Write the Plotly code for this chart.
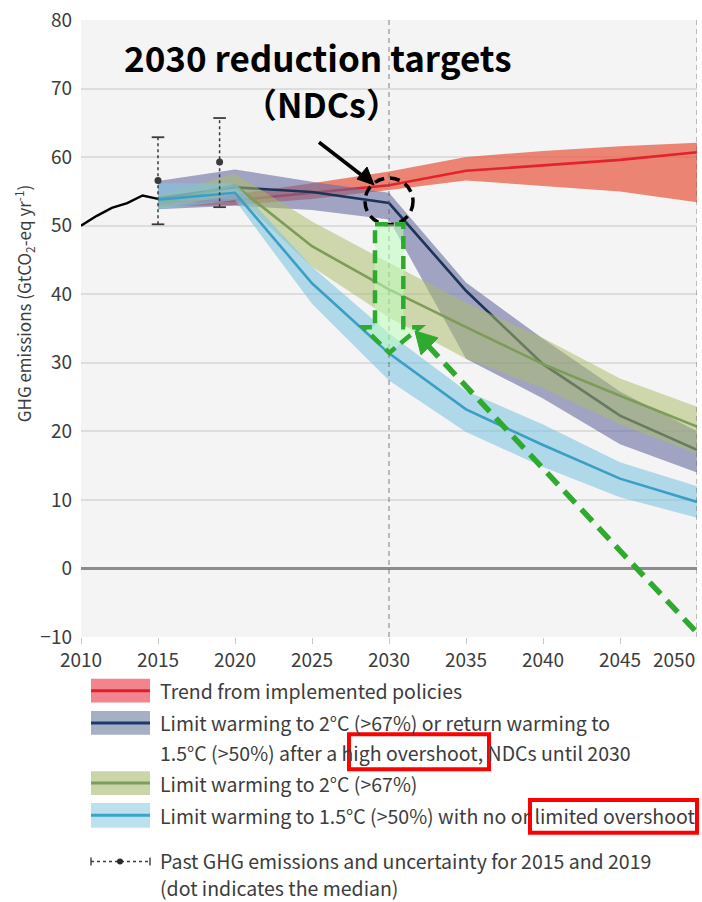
import plotly.graph_objects as go

# ---- data -------------------------------------------------------------
years = [2015, 2020, 2025, 2030, 2035, 2040, 2045, 2050]

# Trend from implemented policies
red_med = [53.4, 53.7, 54.8, 55.9, 58.0, 58.8, 59.6, 60.7]
red_lo = [52.8, 53.0, 53.9, 55.2, 56.6, 55.8, 55.0, 53.4]
red_hi = [54.0, 54.6, 56.2, 57.9, 60.0, 60.9, 61.6, 62.1]

# Limit warming to 2°C (>67%) or return to 1.5°C after high overshoot, NDCs until 2030
navy_med = [54.0, 55.6, 54.9, 53.3, 40.5, 29.8, 22.3, 17.3]
navy_lo = [52.4, 52.9, 52.3, 50.9, 30.6, 24.8, 18.1, 14.0]
navy_hi = [56.5, 58.2, 56.4, 54.8, 41.7, 33.5, 25.8, 20.0]

# Limit warming to 2°C (>67%)
olive_med = [53.2, 55.9, 47.0, 40.7, 35.2, 29.8, 25.2, 20.7]
olive_lo = [52.4, 54.6, 44.0, 36.6, 30.6, 26.3, 21.0, 16.7]
olive_hi = [54.4, 57.6, 50.6, 44.6, 38.8, 33.6, 27.7, 23.6]

# Limit warming to 1.5°C (>50%) with no or limited overshoot
blue_med = [53.8, 54.8, 41.6, 31.4, 23.2, 18.0, 13.1, 9.7]
blue_lo = [52.4, 53.7, 38.6, 27.4, 19.9, 14.8, 10.4, 7.4]
blue_hi = [56.2, 56.2, 44.0, 34.3, 25.9, 21.0, 15.5, 12.0]

# Past emissions
hist_years = [2010, 2011, 2012, 2013, 2014, 2015]
hist_vals = [50.0, 51.4, 52.6, 53.3, 54.4, 53.9]

# Past emissions uncertainty (median and range)
err_years = [2015, 2019]
err_med = [56.6, 59.3]
err_lo = [50.2, 52.7]
err_hi = [62.9, 65.7]

x_ticks = [2010, 2015, 2020, 2025, 2030, 2035, 2040, 2045, 2050]
y_ticks = [-10, 0, 10, 20, 30, 40, 50, 60, 70, 80]

legend_labels = [
    "Trend from implemented policies",
    "Limit warming to 2°C (>67%) or return warming to",
    "1.5°C (>50%) after a high overshoot, NDCs until 2030",
    "Limit warming to 2°C (>67%)",
    "Limit warming to 1.5°C (>50%) with no or limited overshoot",
    "Past GHG emissions and uncertainty for 2015 and 2019",
    "(dot indicates the median)",
]

# ---- page geometry ---------------------------------------------------
W, H = 702, 902
ML, MR, MT, MB = 81, 5, 16, 265
PW, PH = W - ML - MR, H - MT - MB


def fx(px):
    return (px - ML) / PW


def fy(py):
    return (H - MB - py) / PH


FONT = "Noto Sans CJK JP"
TXT = "#3c3c3c"
GREEN = "#2eaa2e"

fig = go.Figure()

scenarios = [
    (red_med, red_lo, red_hi, "rgba(233,89,65,0.72)", "#e1232b"),
    (navy_med, navy_lo, navy_hi, "rgba(104,108,160,0.6)", "#1c3557"),
    (olive_med, olive_lo, olive_hi, "rgba(170,188,105,0.52)", "#7d9c58"),
    (blue_med, blue_lo, blue_hi, "rgba(129,196,224,0.6)", "#3b9fc4"),
]

for med, lo, hi, fill, line in scenarios:
    fig.add_trace(go.Scatter(
        x=years + years[::-1], y=hi + lo[::-1], fill="toself",
        fillcolor=fill, line=dict(width=0), mode="lines",
        hoverinfo="skip", showlegend=False))
    fig.add_trace(go.Scatter(
        x=years, y=med, mode="lines", line=dict(color=line, width=2.6),
        showlegend=False))

fig.add_trace(go.Scatter(
    x=hist_years, y=hist_vals, mode="lines",
    line=dict(color="black", width=2.4), showlegend=False))

# uncertainty whiskers: dotted stem, caps and median dot
WHISK = "#3a3a3a"
for yr, md, lo, hi in zip(err_years, err_med, err_lo, err_hi):
    fig.add_trace(go.Scatter(
        x=[yr, yr], y=[lo, hi], mode="lines",
        line=dict(color=WHISK, width=1.5, dash="dot"), showlegend=False))
    fig.add_trace(go.Scatter(
        x=[yr, yr], y=[lo, hi], mode="markers",
        marker=dict(symbol="line-ew-open", size=9, color=WHISK,
                    line=dict(color=WHISK, width=1.8)),
        showlegend=False))
    fig.add_trace(go.Scatter(
        x=[yr], y=[md], mode="markers",
        marker=dict(color=WHISK, size=7), showlegend=False))

shapes = []
# reference verticals at 2030 and 2050
for xv in (2030, 2050):
    shapes.append(dict(type="line", xref="x", yref="paper", x0=xv, x1=xv,
                       y0=0, y1=1, layer="above",
                       line=dict(color="rgba(90,90,90,0.75)", width=1,
                                 dash="5px,4px")))

# dashed circle around the 2030 pledge point
shapes.append(dict(type="circle", xref="x", yref="y",
                   x0=2028.44, x1=2031.56, y0=50.14, y1=56.96,
                   layer="above",
                   line=dict(color="black", width=3.5, dash="10px,6px")))

# black pointer from the headline to the circle
shapes.append(dict(type="line", xref="paper", yref="paper",
                   x0=fx(319), y0=fy(139), x1=fx(364), y1=fy(174),
                   layer="above", line=dict(color="black", width=3.6)))
shapes.append(dict(type="path", xref="paper", yref="paper",
                   path=(f"M {fx(374)},{fy(182)} L {fx(357)},{fy(176)} "
                         f"L {fx(367)},{fy(164)} Z"),
                   layer="above", fillcolor="black",
                   line=dict(color="black", width=1)))

# hollow block arrow pointing down from the 2030 pledge level
bx_l, bx_r, hx_l, hx_r, tip_x = 2029.09, 2030.93, 2028.33, 2032.01, 2030.02
top_y, neck_y, tip_y = 50.2, 35.2, 31.45
block = (f"M {bx_l},{top_y} L {bx_r},{top_y} L {bx_r},{neck_y} "
         f"L {hx_r},{neck_y} L {tip_x},{tip_y} L {hx_l},{neck_y} "
         f"L {bx_l},{neck_y} Z")
shapes.append(dict(type="path", xref="x", yref="y", path=block,
                   layer="above", fillcolor="rgba(190,255,190,0.55)",
                   line=dict(color=GREEN, width=4.5, dash="13px,7px")))

# long dashed green arrow from the lower right corner
shapes.append(dict(type="line", xref="paper", yref="paper",
                   x0=fx(427.5), y0=fy(343.3), x1=fx(701), y1=fy(637),
                   layer="above",
                   line=dict(color=GREEN, width=5.5, dash="16px,9px")))
head = (f"M {fx(415)},{fy(329)} L {fx(421)},{fy(353)} "
        f"L {fx(438)},{fy(336)} Z")
shapes.append(dict(type="path", xref="paper", yref="paper", path=head,
                   layer="above", fillcolor=GREEN,
                   line=dict(color=GREEN, width=1)))

# ---- custom legend ----------------------------------------------------
sw_x0, sw_x1 = 91, 150
swatches = [
    (679, 703, "rgba(238,110,120,0.85)", "#e01f2a"),
    (711.5, 735.5, "rgba(150,162,186,0.85)", "#1b3a6b"),
    (772, 796, "rgba(196,208,160,0.9)", "#7a9e5c"),
    (804, 829, "rgba(184,222,237,0.95)", "#3aa4c4"),
]
for y0, y1, fill, line in swatches:
    shapes.append(dict(type="rect", xref="paper", yref="paper",
                       x0=fx(sw_x0), x1=fx(sw_x1), y0=fy(y1), y1=fy(y0),
                       fillcolor=fill, line=dict(width=0)))
    ym = (y0 + y1) / 2
    shapes.append(dict(type="line", xref="paper", yref="paper",
                       x0=fx(sw_x0), x1=fx(sw_x1), y0=fy(ym), y1=fy(ym),
                       line=dict(color=line, width=3)))

# past-emissions key symbol
ky = 863
shapes.append(dict(type="line", xref="paper", yref="paper",
                   x0=fx(91), x1=fx(150), y0=fy(ky), y1=fy(ky),
                   line=dict(color=WHISK, width=1.4, dash="dot")))
for kx in (91, 150):
    shapes.append(dict(type="line", xref="paper", yref="paper",
                       x0=fx(kx), x1=fx(kx), y0=fy(ky - 4), y1=fy(ky + 4),
                       line=dict(color=WHISK, width=1.4)))
shapes.append(dict(type="circle", xref="paper", yref="paper",
                   x0=fx(117), x1=fx(123), y0=fy(ky + 3), y1=fy(ky - 3),
                   fillcolor="#2a2a2a", line=dict(width=0)))

# red highlight boxes
for x0, x1, y0, y1 in ((349, 489, 735, 770), (530, 697, 801, 834)):
    shapes.append(dict(type="rect", xref="paper", yref="paper",
                       x0=fx(x0), x1=fx(x1), y0=fy(y1), y1=fy(y0),
                       line=dict(color="#ff0000", width=4)))

annotations = []
row_y = [691, 723, 753, 784, 817, 862, 889]
for text, yy in zip(legend_labels, row_y):
    annotations.append(dict(
        text=text, xref="paper", yref="paper", x=fx(158), y=fy(yy),
        xanchor="left", yanchor="middle", showarrow=False,
        font=dict(family=FONT, size=19.5, color=TXT)))

# headline
annotations.append(dict(
    text="<b>2030 reduction targets</b>", xref="paper", yref="paper",
    x=fx(318), y=fy(53), xanchor="center", yanchor="middle",
    showarrow=False, font=dict(family=FONT, size=35, color="black")))
annotations.append(dict(
    text="<b>（NDCs）</b>", xref="paper", yref="paper",
    x=fx(321), y=fy(100), xanchor="center", yanchor="middle",
    showarrow=False, font=dict(family=FONT, size=34, color="black")))

# y-axis title
annotations.append(dict(
    text="GHG emissions (GtCO<sub>2</sub>-eq yr<sup>-1</sup>)",
    xref="paper", yref="paper", x=fx(24), y=fy(302),
    xanchor="center", yanchor="middle", textangle=-90, showarrow=False,
    font=dict(family=FONT, size=17, color=TXT)))

# last x tick label kept inside the page
annotations.append(dict(
    text=str(x_ticks[-1]), xref="paper", yref="paper", x=1.0, y=fy(659),
    xanchor="right", yanchor="middle", showarrow=False,
    font=dict(family=FONT, size=19, color=TXT)))

fig.update_layout(
    width=W, height=H,
    margin=dict(l=ML, r=MR, t=MT, b=MB, pad=0),
    paper_bgcolor="white", plot_bgcolor="#f4f4f4",
    showlegend=False, shapes=shapes, annotations=annotations,
    font=dict(family=FONT, color=TXT),
)
fig.update_xaxes(
    range=[2010, 2050], tickvals=x_ticks[:-1],
    ticktext=[str(t) for t in x_ticks[:-1]],
    showgrid=False, zeroline=False, showline=False,
    ticks="outside", ticklen=6, tickcolor="#c8c8c8", tickwidth=1,
    tickfont=dict(family=FONT, size=19, color=TXT),
)
fig.update_yaxes(
    range=[-10, 80], tickvals=y_ticks,
    showgrid=True, gridcolor="#dddddd", gridwidth=1.5,
    zeroline=True, zerolinecolor="#8c8c8c", zerolinewidth=3,
    showline=False, ticks="", ticklabelstandoff=8,
    tickfont=dict(family=FONT, size=19, color=TXT),
)

fig.write_html("out.html")
